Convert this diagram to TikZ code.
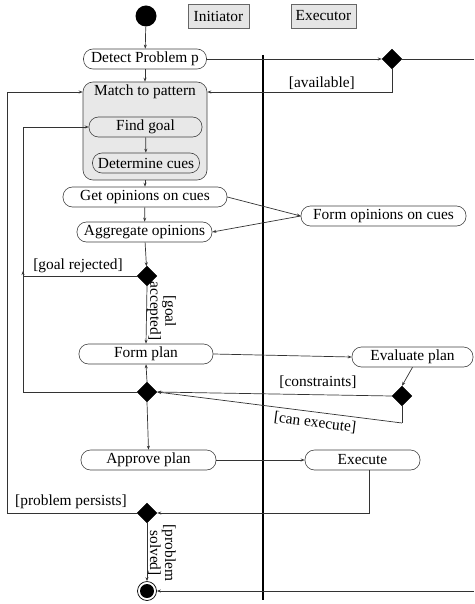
\documentclass[tikz,border=0pt]{standalone}
\usepackage{fontspec}
\setmainfont{Liberation Serif}
\usetikzlibrary{shapes.geometric,arrows.meta,calc}
\begin{document}
\begin{tikzpicture}[x=1pt,y=-1pt,
  font=\fontsize{15.4}{16}\selectfont,
  ln/.style={draw=black!80,line width=0.7pt},
  arr/.style={ln,-{Stealth[length=4pt,width=3pt]}},
  act/.style={draw=black!75,line width=0.6pt,rounded corners=9.5pt,minimum height=20pt,inner sep=1pt,fill=white},
  dia/.style={diamond,fill=black,draw=black,minimum size=20pt,inner sep=0pt},
  hdr/.style={draw=black!60,fill=black!10,line width=0.7pt,minimum height=24pt,inner sep=3pt},
  lbl/.style={inner sep=1pt}]
\useasboundingbox (0,0) rectangle (474,604);
% swimlane line
\coordinate (laneT) at (263,55);
\coordinate (laneB) at (263,600);
\draw[line width=1.3pt] (laneT) -- (laneB);
% headers
\node[hdr,minimum width=61pt] (init) at (218.5,16) {Initiator};
\node[hdr,minimum width=65pt] (exec) at (323.5,16) {Executor};
% start
\node[circle,fill=black,minimum size=21pt,inner sep=0pt] (start) at (146,16) {};
% nodes
\node[act,minimum width=123pt] (detect) at (145,59) {Detect Problem p};
\node[draw=black!75,line width=0.6pt,rounded corners=10pt,fill=black!9,minimum width=124pt,minimum height=98pt] (match) at (145,131) {};
\node[lbl] (mtitle) at (145,92) {Match to pattern};
\node[act,minimum width=113pt,fill=black!9] (find) at (145.5,127) {Find goal};
\node[act,minimum width=107pt,fill=black!9] (cues) at (146,163) {Determine cues};
\node[act,minimum width=164pt] (getop) at (145,197) {Get opinions on cues};
\node[act,minimum width=135pt] (aggr) at (144.5,232) {Aggregate opinions};
\node[act,minimum width=165pt] (formop) at (383.5,216) {Form opinions on cues};
\node[dia] (d1) at (392,59) {};
\node[dia] (d2) at (147,276) {};
\node[act,minimum width=134pt] (fplan) at (146,354) {Form plan};
\node[act,minimum width=121pt] (eplan) at (412.5,357) {Evaluate plan};
\node[dia] (d3) at (402,396) {};
\node[dia] (d4) at (147,392) {};
\node[act,minimum width=135pt] (approve) at (148.5,460) {Approve plan};
\node[act,minimum width=115pt] (execute) at (362.5,460) {Execute};
\node[dia] (d5) at (147,513) {};
\node[circle,draw=black,line width=0.7pt,fill=white,minimum size=19pt,inner sep=0pt] (end) at (147,591) {};
\node[circle,fill=black,minimum size=14pt,inner sep=0pt] (endin) at (147,591) {};
% free ends
\coordinate (rt1) at (474,59);
\coordinate (rt2) at (474,591);
\coordinate (ce) at (402,423);
% connectors
\draw[arr] (start) -- (detect);
\draw[arr] (detect) -- (match);
\draw[arr] (detect.east) -- (d1.west);
\draw[ln] (d1.east) -- (rt1);
\draw[arr] (d1.south) |- (match.east |- mtitle) node[lbl,pos=0.69,above=1pt] {[available]};
\draw[arr] (find) -- (cues);
\draw[arr] (match.south) -- (getop.north);
\draw[arr] (getop) -- (aggr);
\draw[arr] (getop.east) -- (formop.west);
\draw[arr] (formop.west) -- (aggr.east);
\draw[arr] (aggr) -- (d2);
\draw[arr] (d2.west) -| (23,271);
\node[lbl] (grej) at (78,266) {[goal rejected]};
\draw[arr] (d2.south) -- (fplan.north);
\node[lbl,rotate=-90,align=center,font=\fontsize{15.4}{13}\selectfont] (gacc) at (161.5,311) {[goal\\accepted]};
\draw[arr] (fplan.east) -- (eplan.west);
\draw[arr] (eplan.south) -- (d3.north);
\draw[arr] (d3.west) -- (d4.east) node[lbl,pos=0.315,above=5pt] {[constraints]};
\draw[ln] (d3.south) -- (ce);
\draw[arr] (ce) -- (d4.east) node[lbl,pos=0.35,sloped,below=3pt] {[can execute]};
\draw[arr] (d4.north) -- (fplan.south);
\draw[arr] (d4.west) -| (23,127) -- (find.west);
\draw[arr] (d4.south) -- (approve.north);
\draw[arr] (approve.east) -- (execute.west);
\draw[arr] (execute.south -| 369,0) |- (d5.east);
\draw[arr] (d5.west) -| (7,92) -- (match.west |- mtitle);
\node[lbl] (pers) at (71,502) {[problem persists]};
\draw[arr] (d5.south) -- (end.north);
\node[lbl,rotate=-90,align=center,font=\fontsize{15.4}{13}\selectfont] (psol) at (162,553) {[problem\\solved]};
\draw[arr] (rt2) -- (end.east);
\end{tikzpicture}
\end{document}
